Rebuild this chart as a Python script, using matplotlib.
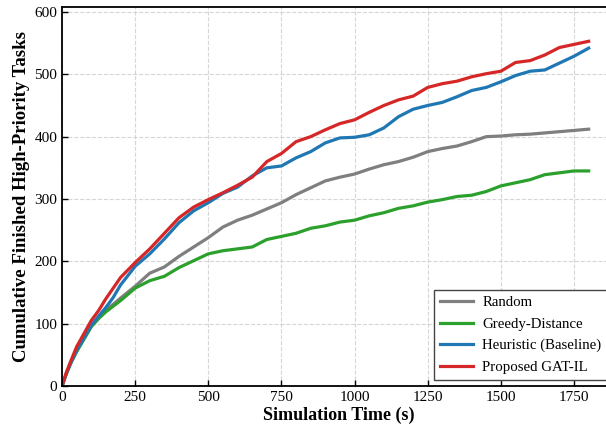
import matplotlib
matplotlib.use("Agg")
import matplotlib.pyplot as plt

plt.rcParams["font.family"] = "serif"
plt.rcParams["font.serif"] = ["Liberation Serif", "DejaVu Serif"]

# time axis (s)
time_s = [0, 15, 30, 50, 75, 100, 125, 150, 175, 200, 250, 300, 350, 400, 450, 500,
          550, 600, 650, 700, 750, 800, 850, 900, 950, 1000, 1050, 1100, 1150, 1200,
          1250, 1300, 1350, 1400, 1450, 1500, 1550, 1600, 1650, 1700, 1750, 1800]

random_tasks = [0, 20, 37, 56, 76, 96, 110, 122, 131, 141, 160, 181, 191, 208, 223, 238,
                255, 266, 274, 284, 294, 307, 318, 329, 335, 340, 348, 355, 360, 367,
                376, 381, 385, 392, 400, 401, 403, 404, 406, 408, 410, 412]

greedy_tasks = [0, 20, 37, 55, 75, 95, 108, 119, 128, 137, 157, 169, 176, 190, 201, 212,
                217, 220, 223, 235, 240, 245, 253, 257, 263, 266, 273, 278, 285, 289,
                295, 299, 304, 306, 312, 321, 326, 331, 339, 342, 345, 345]

heuristic_tasks = [0, 20, 37, 57, 77, 97, 112, 126, 142, 162, 192, 212, 236, 262, 281, 294,
                   309, 319, 337, 350, 353, 366, 376, 390, 398, 399, 403, 414, 432, 444,
                   450, 455, 464, 474, 479, 488, 498, 505, 507, 518, 529, 542]

proposed_tasks = [0, 22, 40, 63, 84, 105, 121, 140, 157, 174, 198, 220, 245, 270, 287, 299,
                  310, 322, 335, 360, 373, 392, 400, 411, 421, 427, 439, 450, 459, 465,
                  479, 485, 489, 496, 501, 505, 519, 522, 531, 543, 548, 553]

series = [
    ("Random", random_tasks, "#7f7f7f"),
    ("Greedy-Distance", greedy_tasks, "#2ca02c"),
    ("Heuristic (Baseline)", heuristic_tasks, "#1f77b4"),
    ("Proposed GAT-IL", proposed_tasks, "#d62728"),
]

fig = plt.figure(figsize=(6.06, 4.30), dpi=100)
ax = fig.add_axes([62 / 606, 44 / 430, 553 / 606, 379 / 430])

for label, values, color in series:
    ax.plot(time_s, values, color=color, linewidth=2.3, label=label)

ax.set_xlim(0, 1890)
ax.set_ylim(0, 608)
ax.set_xticks([0, 250, 500, 750, 1000, 1250, 1500, 1750])
ax.set_yticks([0, 100, 200, 300, 400, 500, 600])
ax.tick_params(direction="in", length=4, labelsize=11, width=1)
ax.grid(True, linestyle="--", color="#cccccc", linewidth=0.8, alpha=0.8)

for spine in ax.spines.values():
    spine.set_linewidth(1.3)
    spine.set_color("black")

ax.set_xlabel("Simulation Time (s)", fontsize=13, fontweight="bold", labelpad=2)
ax.set_ylabel("Cumulative Finished High-Priority Tasks", fontsize=13.5, fontweight="bold", labelpad=3)

# legend sits low right, its right side runs past the cropped figure edge
leg = ax.legend(loc="lower left", bbox_to_anchor=(434 / 606, 50 / 430),
                bbox_transform=fig.transFigure, borderaxespad=0,
                fontsize=10.7, fancybox=False, framealpha=1, edgecolor="#444444",
                handlelength=2.2, handletextpad=0.65, borderpad=0.4, labelspacing=0.55)
leg.get_frame().set_linewidth(1.0)

fig.savefig("out.png", dpi=100)
